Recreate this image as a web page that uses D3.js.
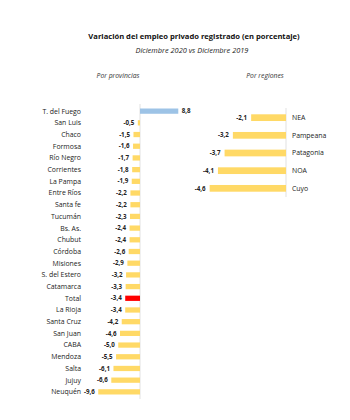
<!DOCTYPE html>
<html><head><meta charset="utf-8">
<script src="https://cdn.jsdelivr.net/npm/d3@7"></script>
<style>body{margin:0;background:#fff}svg{font-family:"Open Sans",sans-serif}</style>
</head><body>
<svg id="c" width="350" height="420"></svg>
<script>
const provincias = ["T. del Fuego","San Luis","Chaco","Formosa","Río Negro","Corrientes","La Pampa","Entre Ríos","Santa fe","Tucumán","Bs. As.","Chubut","Córdoba","Misiones","S. del Estero","Catamarca","Total","La Rioja","Santa Cruz","San Juan","CABA","Mendoza","Salta","Jujuy","Neuquén"];
const provValores = [8.8,-0.5,-1.5,-1.6,-1.7,-1.8,-1.9,-2.2,-2.2,-2.3,-2.4,-2.4,-2.6,-2.9,-3.2,-3.3,-3.4,-3.4,-4.2,-4.6,-5.0,-5.5,-6.1,-6.6,-9.6];
const regiones = ["NEA","Pampeana","Patagonia","NOA","Cuyo"];
const regValores = [-2.1,-3.2,-3.7,-4.1,-4.6];

const svg = d3.select("#c");
const fmt = v => d3.format(".1f")(v).replace(".", ",").replace("−","-");

svg.append("text").attr("x",194).attr("y",39).attr("text-anchor","middle")
  .attr("font-size",7.6).attr("font-weight","bold").attr("fill","#111")
  .text("Variación del empleo privado registrado (en porcentaje)");
svg.append("text").attr("x",192).attr("y",53).attr("text-anchor","middle")
  .attr("font-size",7.4).attr("font-style","italic").attr("fill","#222")
  .text("Diciembre 2020 vs Diciembre 2019");
svg.append("text").attr("x",118).attr("y",78).attr("text-anchor","middle")
  .attr("font-size",6.8).attr("font-style","italic").attr("fill","#333").text("Por provincias");
svg.append("text").attr("x",265).attr("y",78).attr("text-anchor","middle")
  .attr("font-size",6.8).attr("font-style","italic").attr("fill","#333").text("Por regiones");

// Provinces
const xP = d3.scaleLinear().domain([-9.6, 8.8]).range([140 - 9.6*4.35, 140 + 8.8*4.35]);
const yP = d3.scaleBand().domain(provincias).range([105, 398]).paddingInner(0.55).paddingOuter(0.3);
const gP = svg.append("g");
gP.append("line").attr("x1",xP(0)).attr("x2",xP(0)).attr("y1",104).attr("y2",399)
  .attr("stroke","#d9d9d9").attr("stroke-width",0.8);
provincias.forEach((p,i)=>{
  const v = provValores[i];
  const col = p==="Total" ? "#ff0000" : (v>0 ? "#9dc3e6" : "#ffd966");
  gP.append("rect").attr("x",Math.min(xP(0),xP(v))).attr("width",Math.abs(xP(v)-xP(0)))
    .attr("y",yP(p)).attr("height",yP.bandwidth()).attr("fill",col);
  const cy = yP(p)+yP.bandwidth()/2;
  gP.append("text").attr("x",81).attr("y",cy).attr("dy","0.35em").attr("text-anchor","end")
    .attr("font-size",6.9).attr("fill","#222").text(p);
  gP.append("text").attr("x", v>0 ? xP(v)+3.5 : xP(v)-3.5).attr("y",cy).attr("dy","0.35em")
    .attr("text-anchor", v>0 ? "start":"end").attr("font-size",6.2).attr("font-weight","bold")
    .attr("fill","#222").text(fmt(v));
});

// Regions
const xR = d3.scaleLinear().domain([-4.6, 0]).range([286 - 4.6*16.6, 286]);
const yR = d3.scaleBand().domain(regiones).range([109, 197]).paddingInner(0.62).paddingOuter(0.3);
const gR = svg.append("g");
gR.append("line").attr("x1",xR(0)).attr("x2",xR(0)).attr("y1",108).attr("y2",197)
  .attr("stroke","#d9d9d9").attr("stroke-width",0.8);
regiones.forEach((r,i)=>{
  const v = regValores[i];
  gR.append("rect").attr("x",xR(v)).attr("width",xR(0)-xR(v))
    .attr("y",yR(r)).attr("height",yR.bandwidth()).attr("fill","#ffd966");
  const cy = yR(r)+yR.bandwidth()/2;
  gR.append("text").attr("x",292).attr("y",cy).attr("dy","0.35em")
    .attr("font-size",6.9).attr("fill","#222").text(r);
  gR.append("text").attr("x",xR(v)-4).attr("y",cy).attr("dy","0.35em").attr("text-anchor","end")
    .attr("font-size",6.2).attr("font-weight","bold").attr("fill","#222").text(fmt(v));
});
</script>
</body></html>
